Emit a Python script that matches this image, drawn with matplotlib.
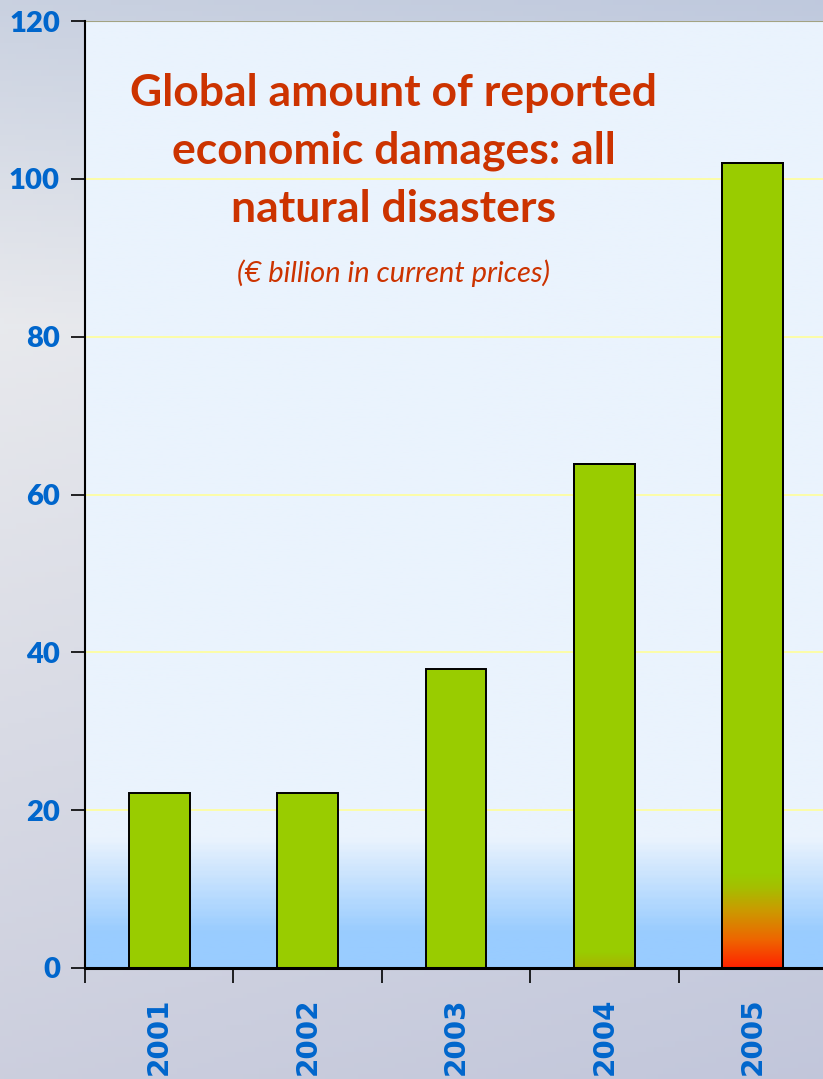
import numpy as np
import matplotlib
matplotlib.use("Agg")
import matplotlib.pyplot as plt
from matplotlib.colors import LinearSegmentedColormap

# economic damages, EUR billion (current prices)
years = ["2001", "2002", "2003", "2004", "2005"]
damages = [22.2, 22.2, 37.9, 63.9, 102.0]
y_ticks = [0, 20, 40, 60, 80, 100, 120]

title_lines = ["Global amount of reported", "economic damages: all", "natural disasters"]
subtitle = "(\u20ac billion in current prices)"

W, H = 823, 1079
fig = plt.figure(figsize=(W / 100, H / 100), dpi=100)

# soft grey-blue backdrop behind the chart
bg = fig.add_axes([0, 0, 1, 1], zorder=0)
yy, xx = np.mgrid[0:1:200j, 0:1:200j]
top = np.array([0.79, 0.82, 0.88])
mid = np.array([0.91, 0.915, 0.93])
bot = np.array([0.80, 0.81, 0.87])
t = yy[..., None]
img = np.where(t < 0.3, top + (mid - top) * (t / 0.3),
               mid + (bot - mid) * np.clip((t - 0.3) / 0.7, 0, 1))
img = img - 0.04 * xx[..., None] * np.array([1, 0.8, 0.3])
bg.imshow(np.clip(img, 0, 1), aspect="auto", extent=[0, 1, 0, 1], origin="upper")
bg.axis("off")

ax = fig.add_axes([85 / W, 111 / H, 742 / W, 947 / H], zorder=1)
ax.set_xlim(-0.5, 4.5)
ax.set_ylim(0, 120)
ax.patch.set_alpha(0)

# plot area fill: pale blue fading into a stronger blue near the base
area_cmap = LinearSegmentedColormap.from_list(
    "area", [(0, "#99CCFF"), (0.035, "#99CCFF"), (0.135, "#EAF3FD"), (1, "#EAF3FD")])
grad = np.linspace(0, 1, 400).reshape(-1, 1)
ax.imshow(grad, cmap=area_cmap, aspect="auto", origin="lower",
          extent=[-0.5, 4.5, 0, 120], zorder=0)

for v in y_ticks[1:-1]:
    ax.axhline(v, color="#FFFF99", lw=1.2, zorder=1)
ax.axhline(120, color="#A3A383", lw=1.5, zorder=1)

x = np.arange(len(years))
bw = 0.41
bars = ax.bar(x, damages, width=bw, color="#99CC00", edgecolor="black",
              linewidth=1.4, zorder=3)

# red-to-green blend at the foot of the last bar, slight tint on 2004
hot = LinearSegmentedColormap.from_list(
    "hot", [(0, "#FF2200"), (0.3, "#EE6600"), (0.6, "#CC9900"), (0.85, "#A5BF00"), (1, "#99CC00")])
warm = LinearSegmentedColormap.from_list("warm", [(0, "#A8B400"), (1, "#99CC00")])
for i, cmap, h in [(4, hot, 12.0), (3, warm, 2.0)]:
    im = ax.imshow(grad, cmap=cmap, aspect="auto", origin="lower",
                   extent=[x[i] - bw / 2, x[i] + bw / 2, 0, h], zorder=3.5)
    im.set_clip_path(bars[i])
    ax.bar(x[i], damages[i], width=bw, facecolor="none", edgecolor="black",
           linewidth=1.4, zorder=4)

for s in ["top", "right"]:
    ax.spines[s].set_visible(False)
ax.spines["left"].set_linewidth(1.5)
ax.spines["bottom"].set_linewidth(2.2)
ax.spines["left"].set_zorder(5)
ax.spines["bottom"].set_zorder(5)

ax.set_yticks(y_ticks)
ax.set_yticklabels([str(v) for v in y_ticks], color="#0066CC",
                   fontsize=21, fontweight="heavy", family="Lato")
ax.tick_params(axis="y", length=10, width=1.2, pad=8)

ax.set_xticks(x)
ax.set_xticklabels(years, rotation=90, color="#0066CC", fontsize=20,
                   fontweight="bold", family="DejaVu Sans", va="top")
ax.tick_params(axis="x", which="major", length=0, pad=21)
ax.set_xticks(np.arange(-0.5, 5, 1), minor=True)
ax.tick_params(axis="x", which="minor", length=11, width=1.2, direction="out")

# chart heading inside the plot area
cx = (394 - 85) / 742
for k, line in enumerate(title_lines):
    ax.text(cx, (968 - 93 - 58 * k) / 947, line, transform=ax.transAxes,
            ha="center", va="center", color="#CC3300", fontsize=32,
            fontweight="bold", family="Lato", zorder=6)
ax.text(cx, (968 - 273) / 947, subtitle, transform=ax.transAxes,
        ha="center", va="center", color="#CC3300", fontsize=21,
        style="italic", family="Lato", zorder=6)

fig.savefig("out.png", dpi=100)
